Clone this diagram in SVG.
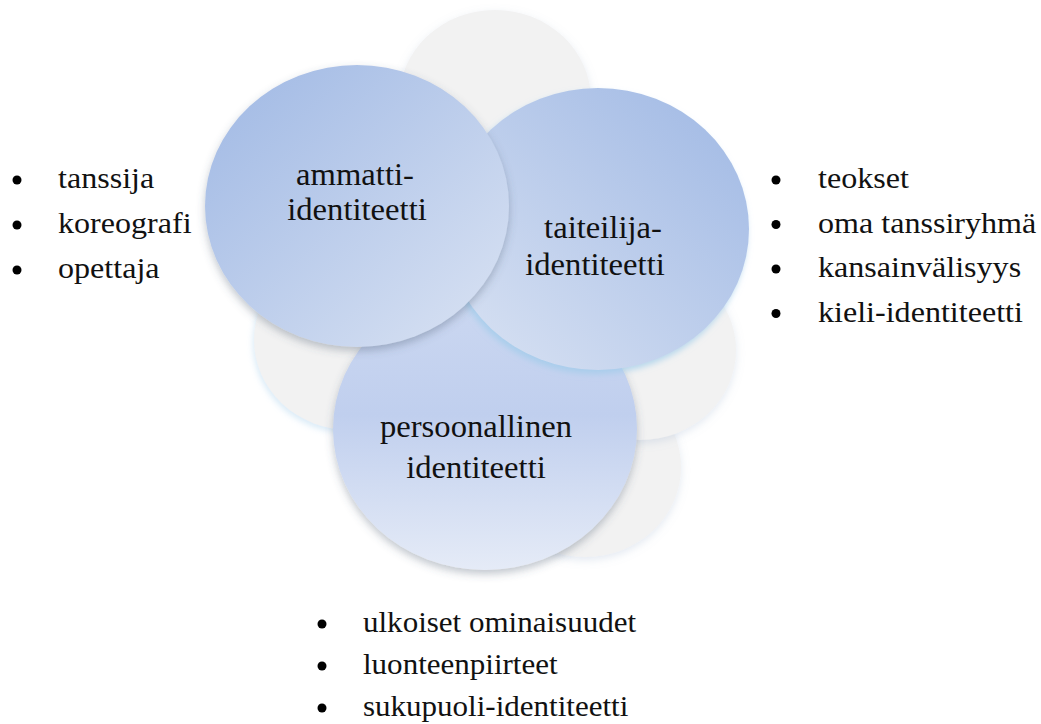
<svg xmlns="http://www.w3.org/2000/svg" width="1041" height="724" viewBox="0 0 1041 724">
  <defs>
    <linearGradient id="gA" x1="0" y1="0" x2="1" y2="1">
      <stop offset="0" stop-color="#9fb8e4"/>
      <stop offset="1" stop-color="#dae3f3"/>
    </linearGradient>
    <linearGradient id="gT" x1="1" y1="0" x2="0" y2="1">
      <stop offset="0" stop-color="#9fb8e4"/>
      <stop offset="1" stop-color="#dae3f3"/>
    </linearGradient>
    <linearGradient id="gP" x1="0" y1="0" x2="0" y2="1">
      <stop offset="0" stop-color="#ccd8f1"/>
      <stop offset="0.45" stop-color="#c0cfee"/>
      <stop offset="1" stop-color="#e5ebf7"/>
    </linearGradient>
    <filter id="shadow" x="-20%" y="-20%" width="140%" height="150%">
      <feDropShadow dx="0" dy="4" stdDeviation="4" flood-color="#4a5a70" flood-opacity="0.35"/>
    </filter>
    <filter id="glow" x="-20%" y="-20%" width="140%" height="150%">
      <feDropShadow dx="-2" dy="4" stdDeviation="3" flood-color="#9ccbea" flood-opacity="0.7"/>
    </filter>
    <filter id="soft" x="-20%" y="-20%" width="140%" height="150%">
      <feDropShadow dx="0" dy="3" stdDeviation="4" flood-color="#8fa8c8" flood-opacity="0.25"/>
    </filter>
    <filter id="softblue" x="-20%" y="-20%" width="140%" height="150%">
      <feDropShadow dx="-1" dy="3" stdDeviation="3" flood-color="#a9d0ee" flood-opacity="0.45"/>
    </filter>
  </defs>
  <style>
    .grey { fill: #f2f2f2; }
    .lbl { font-family: "Liberation Serif", serif; font-size: 30.5px; fill: #111; text-anchor: middle; }
    .li { font-family: "Liberation Serif", serif; font-size: 30px; fill: #111; }
    .li2 { font-family: "Liberation Serif", serif; font-size: 29px; fill: #111; }
    .bul { fill: #000; }
  </style>

  <g id="background">
    <ellipse class="grey" cx="585" cy="467" rx="96" ry="90" filter="url(#soft)"/>
    <ellipse class="grey" cx="640" cy="350" rx="96" ry="90" filter="url(#soft)"/>
    <ellipse class="grey" cx="350" cy="340" rx="96" ry="90" filter="url(#softblue)"/>
    <ellipse class="grey" cx="495" cy="100" rx="96" ry="90" filter="url(#soft)"/>
  </g>

  <g id="node-persoonallinen">
    <ellipse cx="485" cy="429" rx="152" ry="141" fill="url(#gP)" filter="url(#shadow)"/>
    <text class="lbl" transform="translate(476 437) scale(1.07 1)">persoonallinen</text>
    <text class="lbl" transform="translate(476 478) scale(1.07 1)">identiteetti</text>
  </g>

  <g id="node-taiteilija">
    <ellipse cx="598" cy="229" rx="151" ry="141" fill="url(#gT)" filter="url(#glow)"/>
    <text class="lbl" transform="translate(603 238) scale(1.07 1)">taiteilija-</text>
    <text class="lbl" transform="translate(595 275) scale(1.07 1)">identiteetti</text>
  </g>

  <g id="node-ammatti">
    <ellipse cx="357" cy="206" rx="152" ry="141" fill="url(#gA)" filter="url(#shadow)"/>
    <text class="lbl" transform="translate(355 185) scale(1.07 1)">ammatti-</text>
    <text class="lbl" transform="translate(357 220) scale(1.07 1)">identiteetti</text>
  </g>

  <g id="list-left">
    <circle class="bul" cx="17" cy="180" r="4.5"/>
    <circle class="bul" cx="17" cy="225" r="4.5"/>
    <circle class="bul" cx="17" cy="270" r="4.5"/>
    <text class="li" transform="translate(58 188) scale(1.07 1)">tanssija</text>
    <text class="li" transform="translate(58 233) scale(1.07 1)">koreografi</text>
    <text class="li" transform="translate(58 278) scale(1.07 1)">opettaja</text>
  </g>

  <g id="list-right">
    <circle class="bul" cx="776" cy="180" r="4.5"/>
    <circle class="bul" cx="776" cy="224.5" r="4.5"/>
    <circle class="bul" cx="776" cy="269" r="4.5"/>
    <circle class="bul" cx="776" cy="313.5" r="4.5"/>
    <text class="li" transform="translate(818 188) scale(1.07 1)">teokset</text>
    <text class="li" transform="translate(818 232.5) scale(1.07 1)">oma tanssiryhmä</text>
    <text class="li" transform="translate(818 277) scale(1.07 1)">kansainvälisyys</text>
    <text class="li" transform="translate(818 321.5) scale(1.07 1)">kieli-identiteetti</text>
  </g>

  <g id="list-bottom">
    <circle class="bul" cx="322" cy="624" r="4.5"/>
    <circle class="bul" cx="322" cy="666" r="4.5"/>
    <circle class="bul" cx="322" cy="708" r="4.5"/>
    <text class="li2" transform="translate(363 632) scale(1.07 1)">ulkoiset ominaisuudet</text>
    <text class="li2" transform="translate(363 674) scale(1.07 1)">luonteenpiirteet</text>
    <text class="li2" transform="translate(363 716) scale(1.07 1)">sukupuoli-identiteetti</text>
  </g>

  <g id="connectors"></g>
</svg>
